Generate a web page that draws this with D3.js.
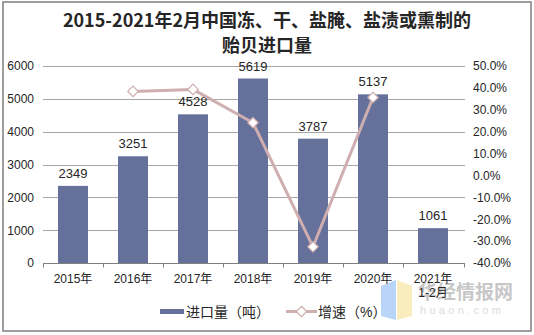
<!DOCTYPE html>
<html>
<head>
<meta charset="utf-8">
<script src="https://cdn.jsdelivr.net/npm/d3@7"></script>
<style>
  html, body { margin: 0; padding: 0; background: #fff; }
  svg { display: block; }
</style>
</head>
<body>
<svg id="chart" width="534" height="335"></svg>
<script>
// Categories (years) and series
const categories = ["2015年", "2016年", "2017年", "2018年", "2019年", "2020年", "2021年\n1-2月"];
const importVolume = [2349, 3251, 4528, 5619, 3787, 5137, 1061];      // 进口量（吨）
const growthRate = [null, 38.4, 39.3, 24.1, -32.6, 35.6, null];        // 增速（%）
const leftTicks = [0, 1000, 2000, 3000, 4000, 5000, 6000];
const rightTicks = [-40, -30, -20, -10, 0, 10, 20, 30, 40, 50];
const titleLines = ["2015-2021年2月中国冻、干、盐腌、盐渍或熏制的", "贻贝进口量"];

const W = 534, H = 335;
const plot = { left: 43, right: 463, top: 66, bottom: 263 };
const barColor = "#65719a";
const lineColor = "#cfaeb0";
const sansFont = "'Liberation Sans', Arial, 'Noto Sans CJK SC', sans-serif";

const svg = d3.select("#chart");

// outer frame
svg.append("rect")
  .attr("x", 3).attr("y", 2).attr("width", 528).attr("height", 329)
  .attr("fill", "#fff").attr("stroke", "#7f7f7f").attr("stroke-width", 1.5);

// title
svg.append("g").selectAll("text").data(titleLines).join("text")
  .attr("x", W / 2).attr("y", (d, i) => 27 + i * 25)
  .attr("text-anchor", "middle")
  .attr("font-family", "'Noto Sans CJK SC', 'DejaVu Serif', serif")
  .attr("font-weight", "bold").attr("font-size", 18).attr("fill", "#262626")
  .text(d => d);

const x = d3.scaleBand().domain(categories)
  .range([plot.left, plot.right]).paddingInner(0.5).paddingOuter(0.25);
const yL = d3.scaleLinear().domain([0, 6000]).range([plot.bottom, plot.top]);
const yR = d3.scaleLinear().domain([-40, 50]).range([plot.bottom, plot.top]);

// gridlines
svg.append("g").selectAll("line").data(leftTicks.filter(t => t > 0)).join("line")
  .attr("x1", plot.left).attr("x2", plot.right + 2)
  .attr("y1", d => Math.round(yL(d)) + 0.5).attr("y2", d => Math.round(yL(d)) + 0.5)
  .attr("stroke", "#a6a6a6").attr("stroke-width", 1);

// left axis labels
const gL = svg.append("g").attr("transform", `translate(${plot.left},0)`)
  .call(d3.axisLeft(yL).tickValues(leftTicks).tickSize(0).tickPadding(9).tickFormat(d3.format("d")));
gL.select(".domain").remove();
gL.selectAll("text").attr("font-family", sansFont).attr("font-size", 12).attr("fill", "#262626");

// right axis labels
const gR = svg.append("g").attr("transform", `translate(${plot.right},0)`)
  .call(d3.axisRight(yR).tickValues(rightTicks).tickSize(0).tickPadding(10).tickFormat(d => d.toFixed(1) + "%"));
gR.select(".domain").remove();
gR.selectAll("text").attr("font-family", sansFont).attr("font-size", 12).attr("fill", "#262626");

// watermark (drawn under the category labels)
const wm = svg.append("g").attr("opacity", 0.55);
wm.append("path").attr("d", "M381,286 L396,280 L396,320 L381,316 Z").attr("fill", "#7fb2ef");
wm.append("path").attr("d", "M397,280 L412,286 L412,316 L397,320 Z").attr("fill", "#f5e08a");
wm.append("text").attr("x", 418).attr("y", 299)
  .attr("font-family", "'Noto Sans CJK SC', sans-serif").attr("font-weight", "bold")
  .attr("font-size", 19).attr("fill", "#9a9a9a").text("华经情报网");
wm.append("text").attr("x", 420).attr("y", 314)
  .attr("font-family", sansFont).attr("font-size", 11).attr("letter-spacing", 3.3)
  .attr("fill", "#bdbdbd").text("huaon.com");

// bars
svg.append("g").selectAll("rect").data(importVolume).join("rect")
  .attr("x", (d, i) => x(categories[i]))
  .attr("width", x.bandwidth())
  .attr("y", d => yL(d))
  .attr("height", d => yL(0) - yL(d))
  .attr("fill", barColor);

// bar value labels
svg.append("g").selectAll("text").data(importVolume).join("text")
  .attr("x", (d, i) => x(categories[i]) + x.bandwidth() / 2)
  .attr("y", d => yL(d) - 8)
  .attr("text-anchor", "middle")
  .attr("font-family", sansFont).attr("font-size", 13).attr("fill", "#262626")
  .text(d => d);

// bottom axis with ticks at category boundaries
const baseY = Math.round(yL(0)) + 0.5;
svg.append("line").attr("x1", plot.left).attr("x2", plot.right + 2)
  .attr("y1", baseY).attr("y2", baseY).attr("stroke", "#808080");
const bounds = categories.map(c => x(c) - x.step() * 0.25).concat([plot.right + 1]);
svg.append("g").selectAll("line").data(bounds).join("line")
  .attr("x1", d => Math.round(d) + 0.5).attr("x2", d => Math.round(d) + 0.5)
  .attr("y1", baseY).attr("y2", baseY + 4).attr("stroke", "#808080");

// category labels
const cat = svg.append("g").selectAll("text").data(categories).join("text")
  .attr("x", d => x(d) + x.bandwidth() / 2)
  .attr("y", 283)
  .attr("text-anchor", "middle")
  .attr("font-family", sansFont).attr("font-size", 12).attr("fill", "#262626");
cat.selectAll("tspan").data(d => d.split("\n")).join("tspan")
  .attr("x", function () { return this.parentNode.getAttribute("x"); })
  .attr("dy", (d, i) => i === 0 ? 0 : 14)
  .text(d => d);

// growth line
const pts = growthRate.map((v, i) => ({ v, c: categories[i] })).filter(p => p.v !== null);
const line = d3.line().x(p => x(p.c) + x.bandwidth() / 2).y(p => yR(p.v));
svg.append("path").datum(pts).attr("d", line)
  .attr("fill", "none").attr("stroke", lineColor).attr("stroke-width", 3)
  .attr("stroke-linejoin", "round");
const diamond = d3.symbol().type(d3.symbolDiamond2).size(70);
svg.append("g").selectAll("path").data(pts).join("path")
  .attr("transform", p => `translate(${x(p.c) + x.bandwidth() / 2},${yR(p.v)})`)
  .attr("d", diamond)
  .attr("fill", "#fff").attr("stroke", lineColor).attr("stroke-width", 1.2);

// legend
const lg = svg.append("g");
lg.append("rect").attr("x", 160).attr("y", 309).attr("width", 24).attr("height", 5).attr("fill", barColor);
lg.append("text").attr("x", 186).attr("y", 317)
  .attr("font-family", sansFont).attr("font-size", 14).attr("fill", "#262626").text("进口量（吨）");
lg.append("line").attr("x1", 286).attr("x2", 317).attr("y1", 311.5).attr("y2", 311.5)
  .attr("stroke", lineColor).attr("stroke-width", 3);
lg.append("path").attr("transform", "translate(301.5,311.5)").attr("d", diamond)
  .attr("fill", "#fff").attr("stroke", lineColor).attr("stroke-width", 1.2);
lg.append("text").attr("x", 318).attr("y", 317)
  .attr("font-family", sansFont).attr("font-size", 14).attr("fill", "#262626").text("增速（%）");
</script>
</body>
</html>
